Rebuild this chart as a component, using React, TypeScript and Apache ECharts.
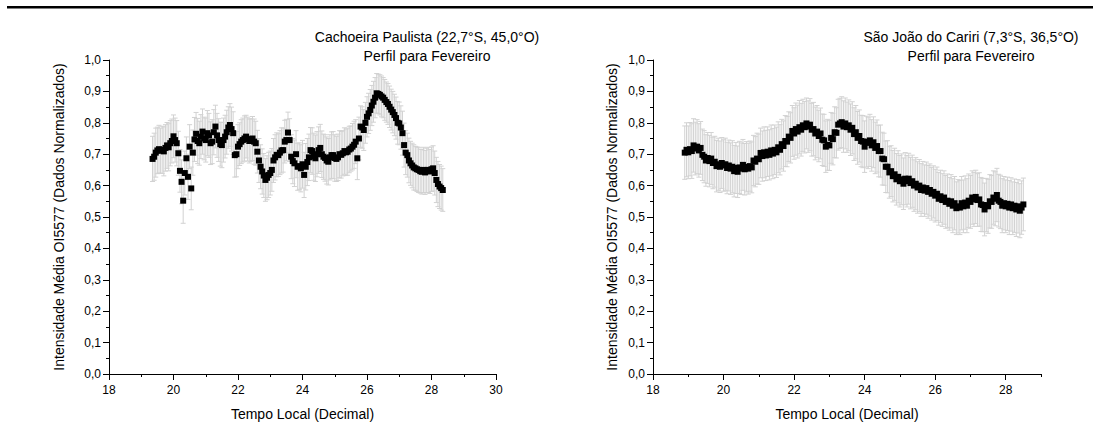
import React, { useEffect, useRef } from 'react';
import * as echarts from 'echarts';

// ---------- data ----------
const timeStep = 0.05; // sampling step of local time (hours)
const leftStart = 19.35;
const rightStart = 18.9;

// Cachoeira Paulista – normalized mean intensity (one value every 0.05 h from 19.35)
const leftValues = [
  0.685, 0.692, 0.705, 0.712, 0.716, 0.711, 0.714, 0.709, 0.720, 0.728,
  0.722, 0.735, 0.742, 0.757, 0.745, 0.735, 0.703, 0.647, 0.612, 0.552,
  0.640, 0.687, 0.628, 0.724, 0.591, 0.705, 0.747, 0.765, 0.742, 0.735,
  0.756, 0.772, 0.750, 0.745, 0.767, 0.760, 0.735, 0.740, 0.770, 0.788,
  0.760, 0.745, 0.732, 0.729, 0.745, 0.756, 0.770, 0.785, 0.793, 0.780,
  0.767, 0.697, 0.700, 0.724, 0.732, 0.740, 0.745, 0.750, 0.756, 0.748,
  0.742, 0.745, 0.750, 0.740, 0.735, 0.708, 0.680, 0.660, 0.645, 0.632,
  0.618, 0.625, 0.634, 0.640, 0.650, 0.680, 0.690, 0.698, 0.697, 0.705,
  0.712, 0.713, 0.740, 0.745, 0.769, 0.745, 0.692, 0.678, 0.671, 0.700,
  0.660, 0.662, 0.655, 0.668, 0.634, 0.660, 0.675, 0.690, 0.713, 0.710,
  0.692, 0.687, 0.700, 0.713, 0.720, 0.700, 0.692, 0.688, 0.680, 0.676,
  0.690, 0.697, 0.697, 0.688, 0.685, 0.690, 0.700, 0.698, 0.703, 0.710,
  0.706, 0.708, 0.715, 0.718, 0.724, 0.730, 0.740, 0.687, 0.750, 0.788,
  0.785, 0.777, 0.800, 0.819, 0.830, 0.841, 0.855, 0.867, 0.880, 0.894,
  0.892, 0.889, 0.884, 0.880, 0.873, 0.866, 0.860, 0.851, 0.842, 0.834,
  0.825, 0.815, 0.800, 0.798, 0.785, 0.767, 0.729, 0.705, 0.697, 0.680,
  0.671, 0.664, 0.658, 0.655, 0.652, 0.650, 0.646, 0.644, 0.650, 0.642,
  0.648, 0.650, 0.645, 0.652, 0.655, 0.640, 0.618, 0.605, 0.597, 0.592,
  0.586,
];

const leftErrors = [
  0.072, 0.075, 0.078, 0.074, 0.076, 0.072, 0.075, 0.078, 0.074, 0.073,
  0.075, 0.072, 0.070, 0.068, 0.070, 0.072, 0.070, 0.068, 0.070, 0.072,
  0.070, 0.068, 0.072, 0.070, 0.068, 0.072, 0.070, 0.068, 0.072, 0.070,
  0.070, 0.072, 0.068, 0.070, 0.072, 0.070, 0.068, 0.070, 0.072, 0.068,
  0.070, 0.068, 0.070, 0.072, 0.070, 0.068, 0.070, 0.066, 0.068, 0.070,
  0.068, 0.070, 0.072, 0.070, 0.068, 0.070, 0.070, 0.072, 0.068, 0.070,
  0.070, 0.068, 0.070, 0.072, 0.070, 0.068, 0.070, 0.070, 0.072, 0.070,
  0.068, 0.070, 0.072, 0.070, 0.068, 0.070, 0.072, 0.070, 0.068, 0.070,
  0.072, 0.070, 0.068, 0.066, 0.065, 0.068, 0.070, 0.072, 0.074, 0.075,
  0.075, 0.074, 0.075, 0.076, 0.072, 0.074, 0.075, 0.074, 0.072, 0.074,
  0.075, 0.074, 0.072, 0.074, 0.075, 0.074, 0.072, 0.074, 0.075, 0.074,
  0.072, 0.074, 0.075, 0.074, 0.072, 0.074, 0.075, 0.074, 0.072, 0.074,
  0.074, 0.075, 0.074, 0.072, 0.074, 0.075, 0.070, 0.068, 0.068, 0.066,
  0.066, 0.065, 0.065, 0.064, 0.064, 0.065, 0.064, 0.065, 0.064, 0.063,
  0.063, 0.064, 0.065, 0.064, 0.065, 0.064, 0.065, 0.066, 0.065, 0.066,
  0.066, 0.067, 0.068, 0.068, 0.069, 0.070, 0.070, 0.070, 0.070, 0.071,
  0.070, 0.071, 0.072, 0.070, 0.071, 0.072, 0.070, 0.071, 0.072, 0.070,
  0.071, 0.072, 0.070, 0.071, 0.072, 0.070, 0.072, 0.072, 0.070, 0.070,
  0.068,
];

// São João do Cariri – normalized mean intensity (one value every 0.05 h from 18.90)
const rightValues = [
  0.705, 0.714, 0.706, 0.716, 0.710, 0.728, 0.718, 0.724, 0.712, 0.720,
  0.698, 0.692, 0.680, 0.688, 0.678, 0.686, 0.672, 0.676, 0.662, 0.668,
  0.660, 0.672, 0.664, 0.668, 0.656, 0.664, 0.654, 0.660, 0.646, 0.656,
  0.644, 0.658, 0.654, 0.666, 0.652, 0.660, 0.654, 0.662, 0.658, 0.680,
  0.676, 0.686, 0.684, 0.704, 0.694, 0.706, 0.696, 0.708, 0.698, 0.712,
  0.702, 0.714, 0.706, 0.722, 0.714, 0.732, 0.726, 0.742, 0.740, 0.756,
  0.752, 0.774, 0.766, 0.780, 0.772, 0.786, 0.778, 0.792, 0.786, 0.798,
  0.788, 0.794, 0.778, 0.780, 0.766, 0.772, 0.758, 0.766, 0.746, 0.744,
  0.724, 0.730, 0.728, 0.752, 0.748, 0.770, 0.768, 0.794, 0.798, 0.802,
  0.788, 0.798, 0.786, 0.792, 0.778, 0.784, 0.764, 0.770, 0.752, 0.758,
  0.742, 0.740, 0.724, 0.740, 0.736, 0.744, 0.728, 0.738, 0.720, 0.726,
  0.710, 0.710, 0.686, 0.684, 0.660, 0.660, 0.642, 0.646, 0.630, 0.636,
  0.620, 0.628, 0.614, 0.620, 0.606, 0.622, 0.614, 0.622, 0.608, 0.614,
  0.600, 0.606, 0.594, 0.600, 0.586, 0.594, 0.584, 0.592, 0.580, 0.586,
  0.574, 0.580, 0.568, 0.574, 0.558, 0.566, 0.554, 0.562, 0.548, 0.552,
  0.542, 0.550, 0.536, 0.544, 0.528, 0.534, 0.530, 0.544, 0.534, 0.546,
  0.536, 0.552, 0.548, 0.562, 0.556, 0.564, 0.554, 0.556, 0.540, 0.538,
  0.524, 0.538, 0.534, 0.550, 0.548, 0.562, 0.558, 0.570, 0.552, 0.548,
  0.536, 0.544, 0.534, 0.542, 0.530, 0.540, 0.528, 0.536, 0.524, 0.534,
  0.520, 0.530, 0.540,
];

const rightErrors = [
  0.085, 0.086, 0.084, 0.085, 0.087, 0.085, 0.084, 0.086, 0.085, 0.084,
  0.082, 0.083, 0.082, 0.081, 0.082, 0.083, 0.082, 0.081, 0.082, 0.083,
  0.082, 0.081, 0.082, 0.083, 0.082, 0.081, 0.082, 0.083, 0.082, 0.081,
  0.082, 0.083, 0.082, 0.081, 0.082, 0.080, 0.081, 0.080, 0.081, 0.080,
  0.080, 0.081, 0.080, 0.079, 0.080, 0.081, 0.080, 0.079, 0.080, 0.081,
  0.080, 0.079, 0.080, 0.081, 0.080, 0.079, 0.080, 0.081, 0.080, 0.079,
  0.080, 0.081, 0.082, 0.083, 0.084, 0.085, 0.084, 0.083, 0.082, 0.081,
  0.082, 0.083, 0.084, 0.085, 0.084, 0.083, 0.082, 0.081, 0.082, 0.083,
  0.082, 0.081, 0.080, 0.081, 0.082, 0.081, 0.080, 0.081, 0.080, 0.081,
  0.082, 0.081, 0.080, 0.081, 0.082, 0.083, 0.084, 0.085, 0.084, 0.083,
  0.082, 0.083, 0.082, 0.081, 0.082, 0.083, 0.082, 0.081, 0.082, 0.083,
  0.082, 0.083, 0.084, 0.083, 0.082, 0.083, 0.082, 0.081, 0.082, 0.083,
  0.082, 0.083, 0.082, 0.081, 0.082, 0.083, 0.082, 0.081, 0.082, 0.083,
  0.082, 0.083, 0.082, 0.083, 0.084, 0.083, 0.082, 0.083, 0.084, 0.083,
  0.084, 0.083, 0.084, 0.085, 0.084, 0.083, 0.084, 0.085, 0.084, 0.085,
  0.084, 0.085, 0.086, 0.085, 0.084, 0.085, 0.086, 0.085, 0.084, 0.085,
  0.086, 0.085, 0.084, 0.085, 0.086, 0.085, 0.084, 0.085, 0.086, 0.085,
  0.084, 0.085, 0.086, 0.085, 0.084, 0.085, 0.086, 0.085, 0.084, 0.085,
  0.086, 0.085, 0.084, 0.085, 0.086, 0.085, 0.084, 0.085, 0.086, 0.085,
  0.086, 0.085, 0.084,
];

const leftTitle = ['Cachoeira Paulista (22,7°S, 45,0°O)', 'Perfil para Fevereiro'];
const rightTitle = ['São João do Cariri (7,3°S, 36,5°O)', 'Perfil para Fevereiro'];
const xAxisName = 'Tempo Local (Decimal)';
const yAxisName = 'Intensidade Média OI5577 (Dados Normalizados)';
const leftXMax = 30;
const rightXMax = 29;

// ---------- helpers ----------
const FONT = '"Liberation Sans", Arial, Helvetica, sans-serif';

function toPoints(start: number, values: number[]) {
  return values.map((v, i) => [+(start + i * timeStep).toFixed(2), v]);
}
function toBars(start: number, values: number[], errs: number[]) {
  return values.map((v, i) => [+(start + i * timeStep).toFixed(2), v - errs[i], v + errs[i]]);
}

function renderErrorBar(params: any, api: any) {
  const x = api.value(0);
  const lo = api.coord([x, api.value(1)]);
  const hi = api.coord([x, api.value(2)]);
  const cap = 2.5;
  const style = { stroke: '#d2d2d2', lineWidth: 1 };
  return {
    type: 'group',
    children: [
      { type: 'line', shape: { x1: lo[0], y1: lo[1], x2: hi[0], y2: hi[1] }, style },
      { type: 'line', shape: { x1: lo[0] - cap, y1: lo[1], x2: lo[0] + cap, y2: lo[1] }, style },
      { type: 'line', shape: { x1: hi[0] - cap, y1: hi[1], x2: hi[0] + cap, y2: hi[1] }, style },
    ],
  };
}

const axisLineStyle = { color: '#000', width: 1 };

function minorX(gridIndex: number, max: number) {
  return {
    type: 'value', gridIndex, position: 'bottom', min: 18, max, interval: 1,
    axisLine: { show: true, onZero: false, lineStyle: axisLineStyle },
    axisTick: { show: true, inside: false, length: 3, lineStyle: axisLineStyle },
    axisLabel: { show: false },
    splitLine: { show: false },
  };
}
function majorX(gridIndex: number, max: number) {
  return {
    type: 'value', gridIndex, position: 'bottom', min: 18, max, interval: 2,
    axisLine: { show: true, onZero: false, lineStyle: axisLineStyle },
    axisTick: { show: true, inside: false, length: 6, lineStyle: axisLineStyle },
    axisLabel: {
      show: true, margin: 10, color: '#000', fontSize: 12, fontFamily: FONT,
      showMaxLabel: max % 2 === 0,
      formatter: (v: number) => String(v),
    },
    splitLine: { show: false },
    name: xAxisName, nameLocation: 'middle', nameGap: 33,
    nameTextStyle: { color: '#000', fontSize: 14, fontFamily: FONT },
  };
}
function yAx(gridIndex: number, nameGap: number) {
  return {
    type: 'value', gridIndex, position: 'left', min: 0, max: 1, interval: 0.1,
    axisLine: { show: true, onZero: false, lineStyle: axisLineStyle },
    axisTick: { show: true, inside: false, length: 6, lineStyle: axisLineStyle },
    minorTick: { show: true, splitNumber: 2, length: 3, lineStyle: axisLineStyle },
    axisLabel: {
      margin: 8, color: '#000', fontSize: 12, fontFamily: FONT,
      formatter: (v: number) => v.toFixed(1).replace('.', ','),
    },
    splitLine: { show: false },
    minorSplitLine: { show: false },
    name: yAxisName, nameLocation: 'middle', nameGap,
    nameTextStyle: { color: '#000', fontSize: 14, fontFamily: FONT },
  };
}

function titleTexts(cx: number, lines: string[]) {
  return lines.map((t, i) => ({
    type: 'text', x: cx, y: 37 + i * 19,
    style: {
      text: t, fill: '#000', fontSize: 14, fontFamily: FONT,
      textAlign: 'center', textVerticalAlign: 'middle',
    },
  }));
}

export default function App() {
  const ref = useRef<HTMLDivElement>(null);
  useEffect(() => {
    if (!ref.current) return;
    const chart = echarts.init(ref.current, null, { renderer: 'svg' });
    const option: any = {
      animation: false,
      backgroundColor: '#fff',
      grid: [
        { left: 109, right: 597, top: 60, bottom: 69 },
        { left: 653, right: 52, top: 60, bottom: 69 },
      ],
      xAxis: [
        minorX(0, leftXMax), majorX(0, leftXMax),
        minorX(1, rightXMax), majorX(1, rightXMax),
      ],
      yAxis: [yAx(0, 43), yAx(1, 34)],
      graphic: [
        { type: 'rect', shape: { x: 7, y: 6, width: 1086, height: 2.5 }, style: { fill: '#000' } },
        ...titleTexts(427, leftTitle),
        ...titleTexts(971, rightTitle),
      ],
      series: [
        {
          type: 'custom', xAxisIndex: 0, yAxisIndex: 0, renderItem: renderErrorBar,
          data: toBars(leftStart, leftValues, leftErrors), encode: { x: 0, y: [1, 2] }, z: 1,
        },
        {
          type: 'scatter', xAxisIndex: 0, yAxisIndex: 0, symbol: 'rect', symbolSize: 6,
          itemStyle: { color: '#000', opacity: 1 }, data: toPoints(leftStart, leftValues), z: 2,
        },
        {
          type: 'custom', xAxisIndex: 2, yAxisIndex: 1, renderItem: renderErrorBar,
          data: toBars(rightStart, rightValues, rightErrors), encode: { x: 0, y: [1, 2] }, z: 1,
        },
        {
          type: 'scatter', xAxisIndex: 2, yAxisIndex: 1, symbol: 'rect', symbolSize: 6,
          itemStyle: { color: '#000', opacity: 1 }, data: toPoints(rightStart, rightValues), z: 2,
        },
      ],
    };
    chart.setOption(option);
    return () => chart.dispose();
  }, []);
  return (
    <div
      ref={ref}
      style={{ position: 'absolute', left: 0, top: 0, width: 1093, height: 443, background: '#fff' }}
    />
  );
}
